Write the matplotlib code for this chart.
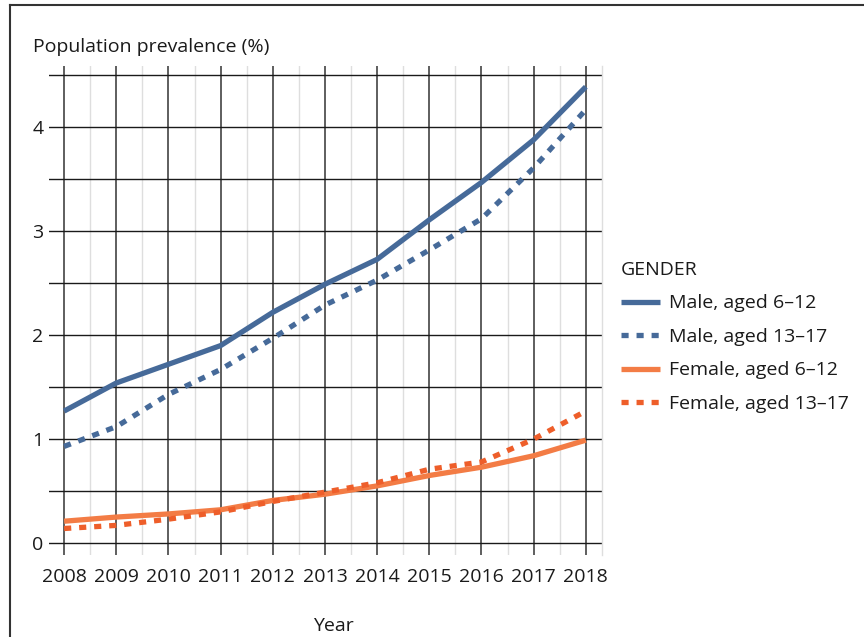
import numpy as np
import matplotlib
matplotlib.use('Agg')
import matplotlib.pyplot as plt
from matplotlib.lines import Line2D
from matplotlib.ticker import MultipleLocator

plt.rcParams['font.family'] = ['Open Sans', 'DejaVu Sans']

years = list(range(2008, 2019))
male_6_12 = [1.27, 1.54, 1.72, 1.90, 2.22, 2.49, 2.73, 3.11, 3.47, 3.88, 4.39]
male_13_17 = [0.93, 1.12, 1.43, 1.67, 1.97, 2.29, 2.53, 2.82, 3.12, 3.61, 4.17]
female_6_12 = [0.21, 0.25, 0.28, 0.32, 0.41, 0.47, 0.55, 0.65, 0.73, 0.84, 0.99]
female_13_17 = [0.14, 0.17, 0.23, 0.30, 0.40, 0.49, 0.58, 0.71, 0.78, 1.00, 1.27]

labels = ['Male, aged 6\u201312', 'Male, aged 13\u201317',
          'Female, aged 6\u201312', 'Female, aged 13\u201317']

blue = '#466a99'
orange = '#f37c45'
orange_dot = '#ee5e2a'
dot = (0, (1.35, 1.5))

fig = plt.figure(figsize=(8.64, 6.37), dpi=100)
ax = fig.add_axes([49 / 864, 1 - 555 / 637, (602 - 49) / 864, (555 - 66) / 637])

lw = 3.8
ax.plot(years, male_6_12, color=blue, lw=lw, solid_capstyle='butt', label=labels[0], zorder=5)
ax.plot(years, male_13_17, color=blue, lw=lw, ls=dot, dash_capstyle='butt', label=labels[1], zorder=5)
ax.plot(years, female_6_12, color=orange, lw=lw, solid_capstyle='butt', label=labels[2], zorder=5)
ax.plot(years, female_13_17, color=orange_dot, lw=lw, ls=dot, dash_capstyle='butt', label=labels[3], zorder=5)

ax.set_xlim(2007.71, 2018.31)
ax.set_ylim(-0.115, 4.59)

ax.set_xticks(years)
ax.xaxis.set_minor_locator(MultipleLocator(0.5))
ax.yaxis.set_major_locator(MultipleLocator(1))
ax.yaxis.set_minor_locator(MultipleLocator(0.5))

# grid: all horizontal lines black, half-year verticals light grey
ax.grid(axis='y', which='both', color='#1a1a1a', lw=1.0, zorder=1)
ax.grid(axis='x', which='major', color='#333333', lw=1.1, zorder=1)
ax.grid(axis='x', which='minor', color='#dedede', lw=1.0, zorder=0)

for s in ['left', 'top', 'bottom']:
    ax.spines[s].set_visible(False)
ax.spines['right'].set_color('#dedede')
ax.spines['right'].set_linewidth(1.0)

ax.tick_params(which='both', length=0)
ax.tick_params(axis='x', pad=9, labelsize=14, colors='#1a1a1a')
ax.tick_params(axis='y', pad=4, labelsize=14, colors='#1a1a1a')

fig.text(33 / 864, 1 - 47 / 637, 'Population prevalence (%)', fontsize=14,
         va='center', ha='left', color='#1a1a1a')
fig.text(333 / 864, 1 - 626 / 637, 'Year', fontsize=14, va='center', ha='center',
         color='#1a1a1a')

leg = ax.legend(loc='upper left', bbox_to_anchor=(613 / 864, 1 - 253 / 637),
                bbox_transform=fig.transFigure, frameon=False, title='GENDER',
                fontsize=14, title_fontsize=14, handlelength=2.0, handletextpad=0.5,
                labelspacing=0.8, borderaxespad=0)
leg._legend_box.align = 'left'
for t in leg.get_texts():
    t.set_color('#1a1a1a')
leg.get_title().set_color('#1a1a1a')

# outer frame (left and top edges)
fig.add_artist(Line2D([10 / 864, 10 / 864], [0, 1 - 5 / 637], transform=fig.transFigure,
                      color='#333333', lw=1.5))
fig.add_artist(Line2D([10 / 864, 1], [1 - 5 / 637, 1 - 5 / 637], transform=fig.transFigure,
                      color='#333333', lw=1.5))

fig.savefig('out.png', dpi=100)
